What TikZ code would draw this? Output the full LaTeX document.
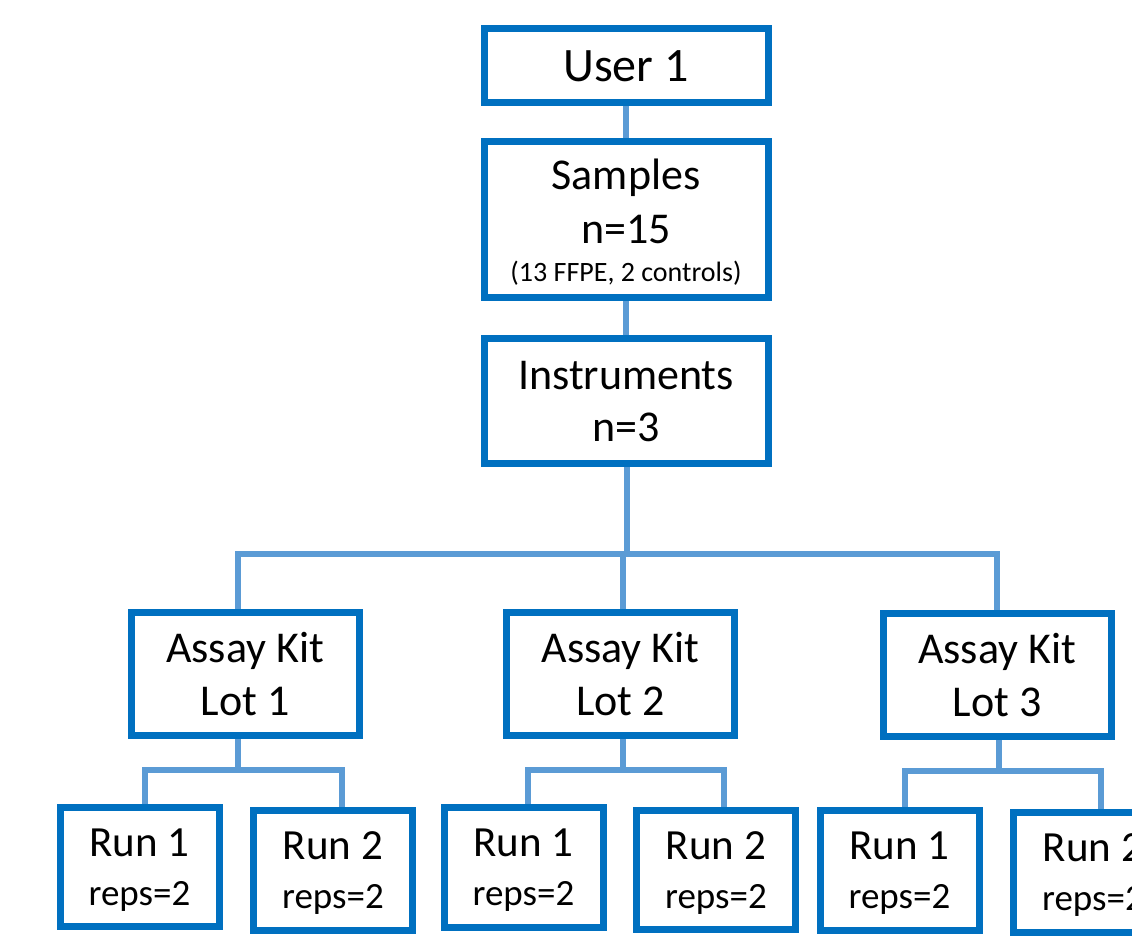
\documentclass[tikz,border=0pt]{standalone}
\usepackage{fontspec}
\setmainfont{Carlito}
\usetikzlibrary{positioning,backgrounds}
\definecolor{BoxBlue}{HTML}{0070C0}
\definecolor{LinkBlue}{HTML}{5B9BD5}

\begin{document}
\begin{tikzpicture}[x=0.5pt,y=-0.5pt,
  box/.style={draw=BoxBlue,line width=3.5pt,fill=white,inner sep=0pt,align=center,minimum width=142pt,font=\fontsize{22}{27}\selectfont},
  kitbox/.style={box,minimum width=114pt,minimum height=61.5pt,font=\fontsize{22}{26.5}\selectfont},
  runbox/.style={box,minimum width=79.5pt,minimum height=59.5pt,text depth=-2pt,font=\fontsize{21.5}{24.5}\selectfont},
  link/.style={draw=LinkBlue,line width=3pt}
]
\useasboundingbox (0,0) rectangle (1132,936);
\clip (0,0) rectangle (1132,936);
\node[box,minimum height=37pt,font=\fontsize{24}{28}\selectfont] (user) at (626,66) {User 1};
\node[box,minimum height=78pt,text depth=-1.5pt] (samples) at (626,220) {Samples\\n=15\\[-8pt]{\fontsize{14}{17}\selectfont (13 FFPE, 2 controls)}};
\node[box,minimum height=62.5pt,font=\fontsize{22}{26}\selectfont] (instr) at (626,401.5) {Instruments\\n=3};
\node[kitbox] (lot1) at (245,674.5) {Assay Kit\\Lot 1};
\node[kitbox] (lot2) at (620.5,674.5) {Assay Kit\\Lot 2};
\node[kitbox] (lot3) at (997,675) {Assay Kit\\Lot 3};
\node[runbox] (run11) at (139.5,867) {Run 1\\{\fontsize{18.5}{20}\selectfont reps=2}};
\node[runbox] (run12) at (333,870.5) {Run 2\\{\fontsize{18.5}{20}\selectfont reps=2}};
\node[runbox] (run21) at (523.5,867.5) {Run 1\\{\fontsize{18.5}{20}\selectfont reps=2}};
\node[runbox] (run22) at (716,870) {Run 2\\{\fontsize{18.5}{20}\selectfont reps=2}};
\node[runbox] (run31) at (899.5,870.5) {Run 1\\{\fontsize{18.5}{20}\selectfont reps=2}};
\node[runbox] (run32) at (1093,872.5) {Run 2\\{\fontsize{18.5}{20}\selectfont reps=2}};
% connectors behind the boxes
\begin{scope}[on background layer]
\draw[link] (user) -- (samples);
\draw[link] (samples) -- (instr);
\draw[link] (instr.271) -- ++(0,87) -| (lot1.96);
\draw[link] (instr.271) -- ++(0,87) -| (lot2.88);
\draw[link] (instr.271) -- ++(0,87) -| (lot3.north);
\draw[link] (lot1.264) -- ++(0,31) -| (run11.85);
\draw[link] (lot1.264) -- ++(0,31) -| (run12.82);
\draw[link] (lot2.272) -- ++(0,31) -| (run21.86);
\draw[link] (lot2.272) -- ++(0,31) -| (run22.83);
\draw[link] (lot3.272) -- ++(0,31) -| (run31.85);
\draw[link] (lot3.272) -- ++(0,31) -| (run32.83);
\end{scope}
\end{tikzpicture}
\end{document}
